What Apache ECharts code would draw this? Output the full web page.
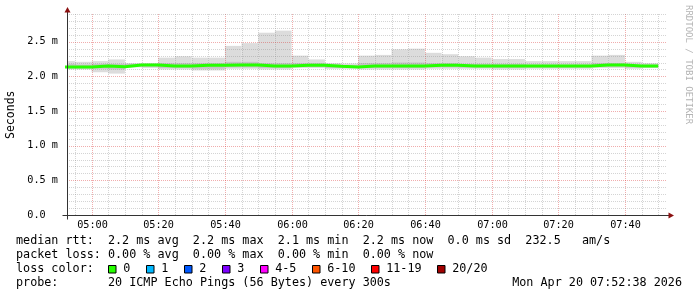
<!DOCTYPE html>
<html><head><meta charset="utf-8">
<script src="https://cdn.jsdelivr.net/npm/echarts@6/dist/echarts.min.js"></script>
<style>html,body{margin:0;padding:0;background:#fff}#c{width:697px;height:297px}</style>
</head><body><div id="c"></div>
<script>
// ---- data (5-minute intervals, values in ms) ----
const intervalStarts = ["04:50","04:55","05:00","05:05","05:10","05:15","05:20","05:25","05:30","05:35",
  "05:40","05:45","05:50","05:55","06:00","06:05","06:10","06:15","06:20","06:25",
  "06:30","06:35","06:40","06:45","06:50","06:55","07:00","07:05","07:10","07:15",
  "07:20","07:25","07:30","07:35","07:40","07:45"];
const medianRtt = [2.135,2.135,2.15,2.14,2.165,2.165,2.15,2.15,2.16,2.16,
  2.165,2.165,2.15,2.15,2.16,2.16,2.145,2.135,2.15,2.15,
  2.15,2.15,2.16,2.16,2.15,2.15,2.15,2.15,2.15,2.15,
  2.15,2.15,2.165,2.165,2.15,2.15];
const smokeMax = [2.22,2.21,2.22,2.245,2.19,2.19,2.27,2.29,2.27,2.27,
  2.44,2.48,2.63,2.66,2.30,2.245,2.19,2.185,2.30,2.31,
  2.39,2.40,2.34,2.32,2.29,2.27,2.25,2.25,2.22,2.22,
  2.22,2.22,2.30,2.31,2.21,2.19];
const smokeMin = [2.10,2.10,2.06,2.04,2.13,2.12,2.10,2.10,2.085,2.085,
  2.11,2.11,2.10,2.10,2.12,2.12,2.11,2.11,2.10,2.10,
  2.10,2.10,2.11,2.11,2.11,2.11,2.10,2.10,2.11,2.11,
  2.11,2.11,2.12,2.12,2.11,2.12];
const innerHi = [2.18,2.17,2.18,2.18,2.18,2.18,2.19,2.19,2.19,2.19,
  2.21,2.21,2.19,2.19,2.19,2.19,2.17,2.16,2.19,2.19,
  2.20,2.20,2.19,2.19,2.18,2.18,2.18,2.18,2.17,2.17,
  2.17,2.17,2.19,2.19,2.17,2.17];
const innerLo = [2.115,2.115,2.11,2.10,2.145,2.14,2.12,2.12,2.11,2.11,
  2.13,2.13,2.12,2.12,2.135,2.135,2.12,2.12,2.12,2.12,
  2.12,2.12,2.13,2.13,2.125,2.125,2.12,2.12,2.125,2.125,
  2.125,2.125,2.14,2.14,2.125,2.13];
const yTickValues = [0, 0.5, 1.0, 1.5, 2.0, 2.5];
const yTickLabels = ["0.0  ", "0.5 m", "1.0 m", "1.5 m", "2.0 m", "2.5 m"];
const xTickLabels = ["05:00","05:20","05:40","06:00","06:20","06:40","07:00","07:20","07:40"];
const lossLabels = ["0","1","2","3","4-5","6-10","11-19","20/20"];
const lossColors = ["#26ff00","#00b8ff","#0059ff","#7e00ff","#ff00ff","#ff5500","#ff0000","#a10000"];
const statLine1 = "median rtt:  2.2 ms avg  2.2 ms max  2.1 ms min  2.2 ms now  0.0 ms sd  232.5   am/s";
const statLine2 = "packet loss: 0.00 % avg  0.00 % max  0.00 % min  0.00 % now";
const statLine3 = "loss color:";
const statLine4 = "probe:       20 ICMP Echo Pings (56 Bytes) every 300s";
const stampText = "Mon Apr 20 07:52:38 2026";
const yAxisTitle = "Seconds";
const watermark = "RRDTOOL / TOBI OETIKER";

(function () {
  const DAY = [2026, 3, 20];
  function ts(hhmm, sec) {
    const p = hhmm.split(":");
    return new Date(DAY[0], DAY[1], DAY[2], +p[0], +p[1], sec || 0).getTime();
  }
  const STEP = 5 * 60 * 1000;
  const xMin = ts("04:52", 38), xMax = ts("07:52", 38);
  const Y_MAX = 2.9;
  const pad = n => (n < 10 ? "0" : "") + n;
  const MONO = "DejaVu Sans Mono";

  const smokeData = intervalStarts.map((s, i) => [ts(s), ts(s) + STEP, smokeMin[i], smokeMax[i], innerLo[i], innerHi[i]]);
  const medianData = intervalStarts.map((s, i) => [ts(s), medianRtt[i]]);
  medianData.push([ts(intervalStarts[intervalStarts.length - 1]) + STEP, medianRtt[medianRtt.length - 1]]);

  // grid line positions (axis decoration): every 5 min / every 0.1 ms
  const vGrid = [];
  for (let t = ts("04:55"); t < xMax; t += STEP) vGrid.push([t]);
  const hGrid = [];
  for (let k = 1; k <= 29; k++) hGrid.push([k / 10]);

  const chart = echarts.init(document.getElementById("c"), null, { renderer: "canvas" });

  const minorCol = "rgba(130,130,130,0.34)";
  const majorCol = "rgba(215,40,40,0.38)";

  function renderSmoke(params, api) {
    const x0 = api.coord([api.value(0), 0])[0];
    const x1 = api.coord([api.value(1), 0])[0];
    const yLo = api.coord([api.value(0), api.value(2)])[1];
    const yHi = api.coord([api.value(0), api.value(3)])[1];
    const iLo = api.coord([api.value(0), api.value(4)])[1];
    const iHi = api.coord([api.value(0), api.value(5)])[1];
    const cs = params.coordSys;
    const clip = { x: cs.x, y: cs.y, width: cs.width, height: cs.height };
    const outer = echarts.graphic.clipRectByRect({ x: x0, y: yHi, width: x1 - x0, height: yLo - yHi }, clip);
    const inner = echarts.graphic.clipRectByRect({ x: x0, y: iHi, width: x1 - x0, height: iLo - iHi }, clip);
    const children = [];
    if (outer) children.push({ type: "rect", shape: outer, style: { fill: "#dcdcdc" } });
    if (inner) children.push({ type: "rect", shape: inner, style: { fill: "#c4c4c4" } });
    return { type: "group", children };
  }

  function renderVGrid(params, api) {
    const t = api.value(0);
    const x = Math.round(api.coord([t, 0])[0]) + 0.5;
    const cs = params.coordSys;
    const d = new Date(t);
    const lab = pad(d.getHours()) + ":" + pad(d.getMinutes());
    const major = xTickLabels.indexOf(lab) >= 0;
    const children = [{
      type: "line", shape: { x1: x, y1: cs.y, x2: x, y2: cs.y + cs.height },
      style: { stroke: major ? majorCol : minorCol, lineWidth: 1, lineDash: [1, 1] }
    }];
    if (major) {
      children.push({ type: "text", x: x, y: cs.y + cs.height + 10,
        style: { text: lab, font: "10.2px " + MONO, fill: "#000", align: "center", verticalAlign: "middle" } });
    }
    return { type: "group", children };
  }

  function renderHGrid(params, api) {
    const v = api.value(0);
    const y = Math.round(api.coord([xMin, v])[1]) + 0.5;
    const cs = params.coordSys;
    const major = yTickValues.some(t => Math.abs(t - v) < 1e-6);
    return {
      type: "line", shape: { x1: cs.x, y1: y, x2: cs.x + cs.width, y2: y },
      style: { stroke: major ? majorCol : minorCol, lineWidth: 1, lineDash: [1, 1] }
    };
  }

  const option = {
    animation: false,
    backgroundColor: "#ffffff",
    grid: { left: 67, right: 30, top: 14, bottom: 82, containLabel: false },
    xAxis: {
      type: "time", min: xMin, max: xMax,
      axisLine: { show: false }, axisTick: { show: false },
      axisLabel: { show: false }, splitLine: { show: false }
    },
    yAxis: {
      type: "value", min: 0, max: Y_MAX, interval: 0.5,
      axisLine: { show: false }, axisTick: { show: false },
      axisLabel: {
        fontFamily: MONO, fontSize: 10.2, color: "#000", margin: 9, showMaxLabel: false,
        formatter: v => { const i = yTickValues.findIndex(t => Math.abs(t - v) < 1e-6); return i >= 0 ? yTickLabels[i] : ""; }
      },
      splitLine: { show: false }
    },
    series: [
      { type: "custom", name: "smoke", z: 1, renderItem: renderSmoke, data: smokeData, silent: true },
      { type: "custom", name: "vgrid", z: 2, renderItem: renderVGrid, data: vGrid, silent: true, clip: false },
      { type: "custom", name: "hgrid", z: 2, renderItem: renderHGrid, data: hGrid, silent: true, clip: false },
      {
        type: "line", name: "median", z: 5,
        data: medianData, step: "end", showSymbol: false, symbol: "none",
        lineStyle: { color: lossColors[0], width: 3 }, silent: true, clip: true
      }
    ]
  };
  chart.setOption(option);

  const pBL = chart.convertToPixel({ xAxisIndex: 0, yAxisIndex: 0 }, [xMin, 0]);
  const pTR = chart.convertToPixel({ xAxisIndex: 0, yAxisIndex: 0 }, [xMax, Y_MAX]);
  const gL = Math.round(pBL[0]) + 0.5, gB = Math.round(pBL[1]) + 0.5;
  const gR = pTR[0], gT = pTR[1];
  const axisColor = "#333";
  const arrowColor = "#8b1010";
  const g = [
    { type: "line", shape: { x1: gL, y1: gB + 4, x2: gL, y2: gT - 3 }, style: { stroke: axisColor, lineWidth: 1 }, z: 10 },
    { type: "line", shape: { x1: gL - 5, y1: gB, x2: gR + 3, y2: gB }, style: { stroke: axisColor, lineWidth: 1 }, z: 10 },
    { type: "polygon", shape: { points: [[gL, gT - 7], [gL - 3, gT - 1.5], [gL + 3, gT - 1.5]] }, style: { fill: arrowColor }, z: 11 },
    { type: "polygon", shape: { points: [[gR + 7, gB], [gR + 1.5, gB - 3], [gR + 1.5, gB + 3]] }, style: { fill: arrowColor }, z: 11 },
    { type: "text", x: 11, y: (gT + gB) / 2, rotation: Math.PI / 2,
      style: { text: yAxisTitle, font: "11.5px " + MONO, fill: "#000", align: "center", verticalAlign: "middle" } },
    { type: "text", x: 688, y: 5, rotation: -Math.PI / 2,
      style: { text: watermark, font: "9px " + MONO, fill: "#b4b4b4", align: "left", verticalAlign: "middle" } },
    { type: "text", x: 16, y: 241, style: { text: statLine1, font: "11.75px " + MONO, fill: "#000", verticalAlign: "middle" } },
    { type: "text", x: 16, y: 255, style: { text: statLine2, font: "11.75px " + MONO, fill: "#000", verticalAlign: "middle" } },
    { type: "text", x: 16, y: 269, style: { text: statLine3, font: "11.75px " + MONO, fill: "#000", verticalAlign: "middle" } },
    { type: "text", x: 16, y: 283, style: { text: statLine4, font: "11.75px " + MONO, fill: "#000", verticalAlign: "middle" } },
    { type: "text", x: 682, y: 283, style: { text: stampText, font: "11.75px " + MONO, fill: "#000", align: "right", verticalAlign: "middle" } }
  ];
  const CH = 7.05;
  let bx = 108.5;
  lossLabels.forEach((lab, i) => {
    g.push({ type: "rect", shape: { x: bx, y: 265.5, width: 7.5, height: 7.5 }, style: { fill: lossColors[i], stroke: "#000", lineWidth: 1 }, z: 10 });
    const lx = bx + 14.7;
    g.push({ type: "text", x: lx, y: 269, style: { text: lab, font: "11.75px " + MONO, fill: "#000", verticalAlign: "middle" } });
    bx = Math.round(lx + CH * lab.length + 15.6) + 0.5;
  });
  chart.setOption({ graphic: g });
})();
</script>
</body></html>
